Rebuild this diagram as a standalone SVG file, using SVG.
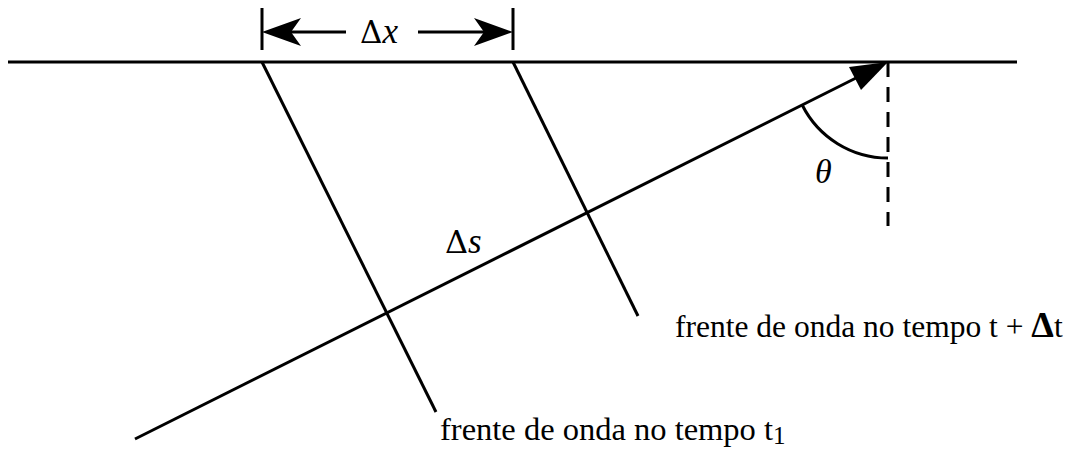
<svg xmlns="http://www.w3.org/2000/svg" width="1075" height="449" viewBox="0 0 1075 449">
<style>
.ln{stroke:#000;stroke-width:3;fill:none;stroke-linecap:butt}
.t{font-family:"Liberation Serif","Times New Roman",serif;fill:#000}
.i{font-style:italic}
.d{font-family:"DejaVu Serif",serif}
</style>
<rect width="1075" height="449" fill="#fff"/>
<g id="surface"><line class="ln" x1="8" y1="62" x2="1017" y2="62"/></g>
<g id="wavefronts">
<line class="ln" x1="262" y1="62" x2="436" y2="412"/>
<line class="ln" x1="513" y1="62" x2="638" y2="316"/>
</g>
<g id="ray">
<line class="ln" x1="135" y1="439" x2="858" y2="77"/>
<polygon points="888,62 849,67 861,90" fill="#000"/>
</g>
<g id="angle">
<line class="ln" x1="888" y1="62" x2="888" y2="226" stroke-dasharray="15 10"/>
<path class="ln" d="M802.2,105 A96,96 0 0,0 888,158"/>
<text class="t i" x="815" y="183" font-size="34">θ</text>
</g>
<g id="dx">
<line class="ln" x1="262" y1="8" x2="262" y2="50"/>
<line class="ln" x1="513" y1="8" x2="513" y2="50"/>
<line class="ln" x1="290" y1="32" x2="346" y2="32"/>
<line class="ln" x1="418" y1="32" x2="485" y2="32"/>
<polygon points="262,32 301,18 291,32 301,46" fill="#000"/>
<polygon points="513,32 474,18 484,32 474,46" fill="#000"/>
<text class="t" x="360" y="43" font-size="35"><tspan class="d" font-size="31">Δ</tspan><tspan class="i">x</tspan></text>
</g>
<g id="ds"><text class="t" x="445" y="253" font-size="35"><tspan class="d" font-size="32">Δ</tspan><tspan class="i">s</tspan></text></g>
<g id="label-t2"><text class="t" x="675" y="337" font-size="31.5">frente de onda no tempo t + <tspan font-weight="bold" font-size="36">Δ</tspan>t</text></g>
<g id="label-t1"><text class="t" x="440" y="440" font-size="32.5">frente de onda no tempo t<tspan font-size="25" dy="4">1</tspan></text></g>
</svg>
